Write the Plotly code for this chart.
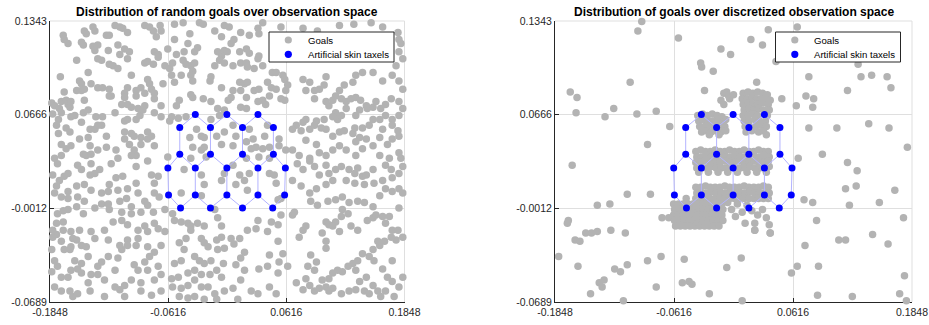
import plotly.graph_objects as go

# ---------------------------------------------------------------- data
X_TICKS = [-0.1848, -0.0616, 0.0616, 0.1848]
Y_TICKS = [-0.0689, -0.0012, 0.0666, 0.1343]

TITLES = [
    "Distribution of random goals over observation space",
    "Distribution of goals over discretized observation space",
]
LEGEND_NAMES = ["Goals", "Artificial skin taxels"]

# Taxel centres of the artificial skin patch (hexagonal mesh)
TAXEL_X = [-0.0333, -0.0004, 0.0320,
           -0.0495, -0.0175, 0.0159, 0.0481,
           -0.0495, -0.0175, 0.0159, 0.0481,
           -0.0619, -0.0333, -0.0004, 0.0320, 0.0606,
           -0.0612, -0.0333, -0.0004, 0.0320, 0.0598,
           -0.0487, -0.0175, 0.0159, 0.0474]
TAXEL_Y = [0.0666, 0.0666, 0.0666,
           0.0572, 0.0572, 0.0572, 0.0572,
           0.0379, 0.0379, 0.0379, 0.0379,
           0.0280, 0.0280, 0.0280, 0.0280, 0.0280,
           0.0085, 0.0085, 0.0085, 0.0085, 0.0085,
           -0.0009, -0.0009, -0.0009, -0.0009]
# neighbouring taxels joined by the mesh
TAXEL_LINKS = [(0, 3), (0, 4), (1, 4), (1, 5), (2, 5), (2, 6),
               (3, 7), (4, 8), (5, 9), (6, 10),
               (7, 11), (7, 12), (8, 12), (8, 13), (9, 13), (9, 14), (10, 14), (10, 15),
               (11, 16), (12, 17), (13, 18), (14, 19), (15, 20),
               (16, 21), (17, 21), (17, 22), (18, 22), (18, 23), (19, 23), (19, 24), (20, 24)]

# goals sampled uniformly over the observation space
RANDOM_GOALS = [
    (-0.171, 0.124), (-0.170, 0.121), (-0.166, 0.118), (-0.149, 0.127), (-0.147, 0.125), (-0.140, 0.130),
    (-0.138, 0.127), (-0.126, 0.124), (-0.123, 0.124), (-0.117, 0.131), (-0.112, 0.130), (-0.109, 0.129),
    (-0.104, 0.126), (-0.086, 0.131), (-0.081, 0.130), (-0.077, 0.127), (-0.074, 0.123), (-0.070, 0.131),
    (-0.069, 0.127), (-0.055, 0.132), (-0.046, 0.133), (-0.055, 0.121), (-0.039, 0.125), (-0.029, 0.133),
    (-0.025, 0.132), (-0.013, 0.127), (-0.003, 0.131), (-0.006, 0.123),
    (-0.152, 0.119), (-0.150, 0.117), (-0.140, 0.116), (-0.135, 0.117), (-0.124, 0.113), (-0.114, 0.117),
    (-0.112, 0.110), (-0.107, 0.114), (-0.102, 0.112), (-0.104, 0.107), (-0.076, 0.112), (-0.072, 0.110),
    (-0.062, 0.114), (-0.053, 0.110), (-0.045, 0.112), (-0.041, 0.118), (-0.034, 0.112), (-0.031, 0.115),
    (-0.010, 0.112), (-0.006, 0.109), (-0.003, 0.113), (-0.157, 0.106), (-0.138, 0.113),
    (-0.135, 0.107), (-0.131, 0.106), (-0.123, 0.103), (-0.119, 0.102), (-0.114, 0.100), (-0.145, 0.097),
    (-0.100, 0.095), (-0.086, 0.104), (-0.083, 0.105), (-0.077, 0.103), (-0.072, 0.108), (-0.065, 0.102),
    (-0.060, 0.100), (-0.057, 0.104), (-0.046, 0.106), (-0.043, 0.103), (-0.038, 0.102), (-0.036, 0.098),
    (-0.034, 0.104), (-0.013, 0.102), (-0.008, 0.106), (-0.003, 0.104), (-0.174, 0.094),
    (-0.154, 0.091), (-0.152, 0.089), (-0.142, 0.089), (-0.135, 0.086), (-0.130, 0.086), (-0.123, 0.085),
    (-0.121, 0.080), (-0.104, 0.086), (-0.107, 0.082), (-0.095, 0.084), (-0.090, 0.086), (-0.083, 0.092),
    (-0.081, 0.089), (-0.079, 0.085), (-0.076, 0.082), (-0.086, 0.082), (-0.067, 0.089), (-0.058, 0.095),
    (-0.055, 0.090), (-0.048, 0.095), (-0.038, 0.095), (-0.036, 0.091), (-0.018, 0.091), (-0.017, 0.094),
    (-0.006, 0.086), (-0.170, 0.083), (-0.157, 0.084), (-0.152, 0.084), (-0.149, 0.085), (-0.173, 0.076),
    (-0.168, 0.077), (-0.166, 0.074), (-0.163, 0.076), (-0.164, 0.072), (-0.149, 0.077), (-0.123, 0.080),
    (-0.107, 0.079), (-0.095, 0.080), (-0.076, 0.078), (-0.069, 0.073), (-0.110, 0.074), (-0.104, 0.074),
    (-0.100, 0.072), (-0.093, 0.071), (-0.086, 0.073), (-0.050, 0.077), (-0.053, 0.073), (-0.036, 0.079),
    (-0.038, 0.081), (-0.025, 0.078), (-0.017, 0.076), (0.001, 0.077), (-0.010, 0.071), (-0.003, 0.070),
    (-0.183, 0.075), (-0.180, 0.073), (-0.175, 0.071), (-0.182, 0.067),
    (-0.173, 0.068), (-0.163, 0.065), (-0.159, 0.066), (-0.150, 0.068), (-0.145, 0.070), (-0.137, 0.065),
    (-0.130, 0.065), (-0.117, 0.068), (-0.104, 0.063), (-0.107, 0.062), (-0.095, 0.063), (-0.091, 0.066),
    (-0.088, 0.070), (-0.076, 0.068), (-0.069, 0.065), (-0.058, 0.065), (-0.060, 0.062), (-0.051, 0.064),
    (-0.043, 0.065), (-0.017, 0.063), (-0.008, 0.066), (-0.176, 0.063), (-0.178, 0.059), (-0.168, 0.057),
    (-0.164, 0.054), (-0.152, 0.061), (-0.143, 0.056), (-0.138, 0.056), (-0.135, 0.059), (-0.131, 0.059),
    (-0.107, 0.054), (-0.100, 0.053), (-0.097, 0.051), (-0.083, 0.054), (-0.079, 0.051), (-0.090, 0.050),
    (-0.032, 0.056), (-0.027, 0.051), (-0.024, 0.050), (-0.011, 0.051), (-0.003, 0.054), (-0.176, 0.053),
    (-0.173, 0.045), (-0.168, 0.042), (-0.163, 0.044), (-0.145, 0.050), (-0.154, 0.049), (-0.143, 0.044),
    (-0.126, 0.051), (-0.135, 0.041), (-0.126, 0.043), (-0.116, 0.041), (-0.107, 0.049), (-0.102, 0.045),
    (-0.097, 0.041), (-0.095, 0.037), (-0.100, 0.037), (-0.076, 0.044), (-0.090, 0.045), (-0.083, 0.049),
    (-0.039, 0.050), (-0.024, 0.043), (-0.006, 0.045), (-0.173, 0.037), (-0.150, 0.038), (-0.147, 0.037),
    (-0.142, 0.038), (-0.180, 0.035), (-0.114, 0.035), (-0.027, 0.041), (-0.022, 0.036), (-0.038, 0.035),
    (-0.062, 0.036), (-0.036, 0.043),
    (0.002, 0.130), (0.014, 0.126), (0.023, 0.124), (0.032, 0.129), (0.033, 0.125), (0.037, 0.133),
    (0.056, 0.130), (0.079, 0.129), (0.094, 0.127), (0.117, 0.131), (0.132, 0.132), (0.150, 0.133),
    (0.162, 0.130), (0.178, 0.126), (0.179, 0.121), (0.181, 0.118), (0.004, 0.118), (0.020, 0.114),
    (0.023, 0.111), (0.032, 0.107), (0.033, 0.109), (0.013, 0.112), (0.006, 0.102), (0.014, 0.104),
    (0.021, 0.101), (0.028, 0.100), (0.037, 0.102), (0.047, 0.097), (0.051, 0.097), (0.058, 0.095),
    (0.060, 0.092), (0.042, 0.090), (0.013, 0.090), (0.018, 0.089), (0.021, 0.090), (0.006, 0.084),
    (0.004, 0.079), (0.014, 0.084), (0.020, 0.079), (0.028, 0.084), (0.033, 0.085), (0.046, 0.086),
    (0.051, 0.085), (0.044, 0.080), (0.037, 0.077), (0.056, 0.078), (0.061, 0.084), (0.063, 0.088),
    (0.060, 0.077), (0.020, 0.071), (0.014, 0.072), (0.032, 0.076), (0.040, 0.074), (0.179, 0.112),
    (0.183, 0.107), (0.176, 0.102), (0.172, 0.095), (0.179, 0.091), (0.183, 0.085), (0.162, 0.091),
    (0.152, 0.097), (0.141, 0.097), (0.134, 0.095), (0.131, 0.090), (0.122, 0.088), (0.117, 0.084),
    (0.113, 0.080), (0.110, 0.077), (0.106, 0.073), (0.103, 0.094), (0.101, 0.088), (0.096, 0.085),
    (0.091, 0.084), (0.082, 0.084), (0.079, 0.092), (0.086, 0.090), (0.091, 0.078), (0.103, 0.076),
    (0.119, 0.078), (0.124, 0.076), (0.129, 0.078), (0.134, 0.079), (0.139, 0.077), (0.145, 0.073),
    (0.146, 0.071), (0.152, 0.072), (0.155, 0.076), (0.160, 0.071), (0.165, 0.074), (0.171, 0.078),
    (0.179, 0.076), (0.183, 0.071), (0.165, 0.066), (0.172, 0.063), (0.179, 0.066), (0.138, 0.070),
    (0.134, 0.066), (0.124, 0.071), (0.113, 0.068), (0.110, 0.065), (0.115, 0.063), (0.119, 0.066),
    (0.101, 0.063), (0.093, 0.062), (0.082, 0.063), (0.079, 0.061), (0.072, 0.059), (0.068, 0.056),
    (0.077, 0.055), (0.086, 0.056), (0.091, 0.059), (0.098, 0.057), (0.103, 0.056), (0.110, 0.051),
    (0.117, 0.054), (0.122, 0.055), (0.131, 0.053), (0.133, 0.057), (0.141, 0.057), (0.148, 0.059),
    (0.152, 0.063), (0.159, 0.063), (0.162, 0.056), (0.172, 0.059), (0.178, 0.055), (0.179, 0.051),
    (0.172, 0.049), (0.167, 0.045), (0.159, 0.050), (0.145, 0.049), (0.138, 0.050), (0.134, 0.047),
    (0.141, 0.042), (0.134, 0.037), (0.124, 0.041), (0.117, 0.044), (0.110, 0.041), (0.103, 0.037),
    (0.096, 0.039), (0.086, 0.035), (0.075, 0.037), (0.068, 0.041), (0.061, 0.041), (0.054, 0.044),
    (0.044, 0.043), (0.037, 0.042), (0.030, 0.043), (0.025, 0.042), (0.020, 0.047), (0.027, 0.049),
    (0.039, 0.051), (0.054, 0.049), (0.042, 0.059), (0.082, 0.048), (0.093, 0.045), (0.152, 0.044),
    (0.159, 0.037), (0.169, 0.035), (0.179, 0.039), (0.181, 0.035), (0.023, 0.056), (0.006, 0.059),
    (0.009, 0.051), (0.006, 0.044), (0.020, 0.035), (0.033, 0.036), (0.044, 0.035), (0.000, 0.112),
    (0.007, 0.121), (0.020, 0.104),
    (-0.177, 0.031), (-0.182, 0.023), (-0.175, 0.019), (-0.170, 0.022), (-0.166, 0.024), (-0.156, 0.030),
    (-0.152, 0.027), (-0.142, 0.031), (-0.143, 0.023), (-0.138, 0.024), (-0.133, 0.027), (-0.121, 0.031),
    (-0.116, 0.021), (-0.109, 0.022), (-0.095, 0.029), (-0.083, 0.033), (-0.079, 0.023), (-0.072, 0.022),
    (-0.076, 0.017), (-0.095, 0.017), (-0.104, 0.013), (-0.114, 0.012), (-0.123, 0.016), (-0.124, 0.011),
    (-0.131, 0.010), (-0.142, 0.012), (-0.149, 0.016), (-0.157, 0.015), (-0.166, 0.011), (-0.178, 0.015),
    (-0.180, 0.010), (-0.173, 0.007), (-0.166, 0.006), (-0.156, 0.007), (-0.149, 0.004), (-0.157, 0.000),
    (-0.166, -0.002), (-0.171, -0.003), (-0.177, -0.005), (-0.150, -0.005), (-0.138, -0.001), (-0.131, 0.002),
    (-0.123, -0.002), (-0.124, 0.002), (-0.112, 0.004), (-0.105, 0.006), (-0.100, 0.000), (-0.093, 0.010),
    (-0.086, 0.004), (-0.083, 0.001), (-0.076, 0.010), (-0.071, 0.007), (-0.065, -0.002), (-0.077, -0.004),
    (-0.090, -0.004), (-0.100, -0.005), (-0.110, -0.004), (-0.119, -0.011), (-0.110, -0.010), (-0.104, -0.013),
    (-0.093, -0.017), (-0.086, -0.014), (-0.083, -0.018), (-0.076, -0.012), (-0.072, -0.016), (-0.065, -0.018),
    (-0.093, -0.023), (-0.104, -0.024), (-0.110, -0.031), (-0.114, -0.037), (-0.104, -0.028), (-0.095, -0.028),
    (-0.083, -0.029), (-0.076, -0.033), (-0.069, -0.028), (-0.081, -0.036), (-0.086, -0.040), (-0.097, -0.042),
    (-0.093, -0.046), (-0.083, -0.046), (-0.072, -0.043), (-0.069, -0.049), (-0.076, -0.053), (-0.090, -0.055),
    (-0.100, -0.053), (-0.107, -0.057), (-0.112, -0.060), (-0.117, -0.046), (-0.128, -0.053), (-0.135, -0.049),
    (-0.142, -0.049), (-0.152, -0.048), (-0.163, -0.046), (-0.166, -0.051), (-0.173, -0.051), (-0.177, -0.043),
    (-0.180, -0.039), (-0.183, -0.047), (-0.180, -0.058), (-0.173, -0.061), (-0.164, -0.061), (-0.161, -0.065),
    (-0.156, -0.063), (-0.145, -0.055), (-0.143, -0.061), (-0.128, -0.065), (-0.117, -0.058), (-0.107, -0.065),
    (-0.090, -0.061), (-0.079, -0.064), (-0.069, -0.061), (-0.178, -0.020), (-0.171, -0.017), (-0.163, -0.018),
    (-0.161, -0.023), (-0.157, -0.024), (-0.163, -0.029), (-0.164, -0.031), (-0.170, -0.031), (-0.152, -0.028),
    (-0.147, -0.029), (-0.138, -0.023), (-0.128, -0.017), (-0.124, -0.024), (-0.142, -0.018), (-0.173, -0.025),
    (-0.182, -0.022), (-0.178, -0.012), (-0.171, -0.011), (-0.182, -0.017), (-0.154, -0.017), (-0.145, -0.036),
    (-0.159, -0.039), (-0.152, -0.041), (-0.156, -0.045), (-0.135, -0.043), (-0.131, -0.040), (-0.124, -0.036),
    (-0.112, -0.028), (-0.183, -0.031), (-0.055, -0.010), (-0.048, -0.011), (-0.041, -0.012), (-0.038, -0.014),
    (-0.031, -0.012), (-0.024, -0.014), (-0.038, -0.017), (-0.043, -0.023), (-0.027, -0.023), (-0.024, -0.026),
    (-0.020, -0.029), (-0.011, -0.024), (-0.006, -0.022), (-0.010, -0.031), (-0.003, -0.030), (-0.050, -0.026),
    (-0.045, -0.031), (-0.055, -0.041), (-0.048, -0.039), (-0.034, -0.036), (-0.029, -0.039), (-0.024, -0.041),
    (-0.034, -0.046), (-0.041, -0.048), (-0.051, -0.051), (-0.058, -0.052), (-0.057, -0.058), (-0.048, -0.059),
    (-0.041, -0.057), (-0.034, -0.053), (-0.027, -0.049), (-0.018, -0.049), (-0.011, -0.046), (-0.006, -0.051),
    (-0.004, -0.041), (-0.017, -0.039), (-0.020, -0.058), (-0.013, -0.063), (-0.034, -0.065), (-0.050, -0.065),
    (-0.041, -0.066), (-0.024, -0.067), (-0.011, -0.067), (-0.003, -0.061), (-0.027, -0.058), (-0.057, -0.005),
    (-0.048, 0.010), (-0.045, 0.027), (-0.027, 0.023), (-0.024, 0.016), (-0.006, 0.019), (-0.003, 0.024),
    (-0.027, 0.008), (-0.010, -0.008), (-0.006, -0.014), (-0.013, -0.002),
    (0.006, 0.030), (0.013, 0.023), (0.018, 0.019), (0.021, 0.012), (0.009, 0.016), (0.023, 0.024),
    (0.044, 0.024), (0.049, 0.023), (0.053, 0.005), (0.056, 0.006), (0.068, 0.019), (0.051, 0.017),
    (0.073, 0.031), (0.079, 0.027), (0.086, 0.033), (0.091, 0.029), (0.096, 0.023), (0.103, 0.030),
    (0.106, 0.024), (0.113, 0.027), (0.119, 0.029), (0.127, 0.027), (0.133, 0.024), (0.136, 0.028),
    (0.141, 0.022), (0.145, 0.023), (0.152, 0.027), (0.165, 0.030), (0.171, 0.027), (0.179, 0.024),
    (0.183, 0.029), (0.172, 0.021), (0.162, 0.019), (0.153, 0.017), (0.143, 0.016), (0.133, 0.017),
    (0.124, 0.019), (0.110, 0.019), (0.103, 0.016), (0.093, 0.013), (0.086, 0.010), (0.077, 0.015),
    (0.087, 0.004), (0.094, 0.001), (0.105, 0.004), (0.113, 0.005), (0.120, 0.007), (0.127, 0.003),
    (0.136, 0.004), (0.143, 0.003), (0.152, 0.000), (0.159, 0.008), (0.165, 0.013), (0.172, 0.011),
    (0.179, 0.013), (0.183, 0.010), (0.179, -0.001), (0.120, -0.002), (0.126, -0.005), (0.119, -0.007),
    (0.113, -0.011), (0.103, -0.011), (0.106, -0.013), (0.110, -0.014), (0.099, -0.019), (0.117, -0.018),
    (0.129, -0.014), (0.136, -0.017), (0.146, -0.010), (0.152, -0.008), (0.155, -0.006), (0.162, -0.007),
    (0.165, -0.012), (0.172, -0.017), (0.169, -0.007), (0.178, -0.017), (0.183, -0.022), (0.176, -0.024),
    (0.171, -0.022), (0.164, -0.025), (0.159, -0.028), (0.157, -0.025), (0.152, -0.031), (0.148, -0.036),
    (0.153, -0.039), (0.162, -0.045), (0.167, -0.051), (0.172, -0.054), (0.179, -0.058), (0.183, -0.051),
    (0.172, -0.039), (0.141, -0.034), (0.136, -0.039), (0.131, -0.041), (0.134, -0.046), (0.126, -0.043),
    (0.120, -0.047), (0.115, -0.046), (0.110, -0.048), (0.106, -0.052), (0.099, -0.053), (0.103, -0.058),
    (0.096, -0.059), (0.091, -0.061), (0.086, -0.057), (0.079, -0.060), (0.072, -0.055), (0.082, -0.052),
    (0.091, -0.046), (0.084, -0.043), (0.093, -0.040), (0.103, -0.030), (0.103, -0.025), (0.087, -0.035),
    (0.079, -0.017), (0.075, -0.022), (0.082, -0.014), (0.068, -0.006), (0.070, -0.004), (0.157, -0.061),
    (0.160, -0.065), (0.152, -0.057), (0.145, -0.051), (0.138, -0.054), (0.143, -0.061), (0.127, -0.061),
    (0.119, -0.063), (0.110, -0.059), (0.106, -0.061), (0.134, -0.060), (0.148, -0.063), (0.165, -0.061),
    (0.174, -0.065), (0.013, -0.023), (0.004, -0.023), (0.007, -0.027), (0.021, -0.017), (0.032, -0.010),
    (0.030, -0.016), (0.042, -0.018), (0.046, -0.011), (0.053, -0.013), (0.056, -0.006), (0.053, -0.025),
    (0.044, -0.035), (0.058, -0.034), (0.054, -0.040), (0.063, -0.043), (0.053, -0.048), (0.042, -0.043),
    (0.033, -0.045), (0.018, -0.033), (0.014, -0.037), (0.009, -0.042), (0.018, -0.046), (0.014, -0.053),
    (0.006, -0.059), (0.025, -0.061), (0.032, -0.063), (0.044, -0.058), (0.051, -0.063), (0.011, -0.067),
]

# goals snapped to the discretized observation space
DISCRETE_GOALS = [
    # scattered goals
    (-0.095, 0.134), (-0.099, 0.127), (-0.057, 0.122), (-0.013, 0.114), (-0.003, 0.110), (-0.034, 0.104),
    (-0.033, 0.101), (-0.021, 0.098), (-0.107, 0.090), (-0.169, 0.083), (-0.162, 0.079), (-0.030, 0.084),
    (-0.007, 0.083), (-0.013, 0.077), (-0.004, 0.078), (-0.010, 0.074), (-0.124, 0.071), (-0.163, 0.068),
    (-0.133, 0.065), (-0.100, 0.067), (-0.080, 0.069), (-0.066, 0.058), (-0.089, 0.045), (-0.167, 0.030),
    (-0.110, 0.009), (-0.086, 0.009), (-0.141, 0.001), (-0.128, 0.002), (-0.049, 0.006), (-0.074, -0.008),
    (-0.067, -0.008), (-0.171, -0.010), (-0.172, -0.012), (-0.153, -0.019), (-0.147, -0.019), (-0.141, -0.018),
    (-0.127, -0.017), (-0.112, -0.019), (-0.164, -0.024), (-0.159, -0.025), (-0.181, -0.036), (-0.161, -0.043),
    (-0.123, -0.045), (-0.117, -0.047), (-0.110, -0.042), (-0.089, -0.039), (-0.075, -0.036), (-0.051, -0.038),
    (-0.007, -0.044), (-0.134, -0.053), (-0.139, -0.055), (-0.136, -0.058), (-0.148, -0.063), (-0.114, -0.068),
    (-0.080, -0.058), (-0.053, -0.055), (-0.046, -0.054), (-0.043, -0.056), (-0.025, -0.063),
    (0.036, 0.128), (0.066, 0.130), (0.018, 0.121), (0.030, 0.117), (0.044, 0.105), (0.129, 0.103),
    (0.078, 0.094), (0.132, 0.094), (0.143, 0.095), (0.159, 0.094), (0.163, 0.086), (0.118, 0.084),
    (0.024, 0.090), (0.050, 0.078), (0.075, 0.080), (0.083, 0.078), (0.065, 0.073), (0.082, 0.072),
    (0.078, 0.057), (0.107, 0.057), (0.140, 0.060), (0.161, 0.057), (0.180, 0.043), (0.067, 0.035),
    (0.092, 0.038), (0.118, 0.032), (0.128, 0.026), (0.116, 0.013), (0.127, 0.015), (0.167, 0.012),
    (0.073, 0.005), (0.082, 0.003), (0.120, 0.001), (0.151, 0.003), (0.176, -0.008), (0.086, -0.010),
    (0.008, -0.037), (0.074, -0.028), (0.109, -0.024), (0.116, -0.024), (0.144, -0.020), (0.160, -0.027),
    (0.066, -0.043), (0.060, -0.048), (0.088, -0.043), (0.177, -0.050), (0.087, -0.064), (0.123, -0.065),
    (0.172, -0.063), (0.179, -0.068), (0.009, -0.068), (0.038, -0.019), (0.022, -0.017),
    # upper-left cell
    (-0.037, 0.066), (-0.032, 0.067), (-0.027, 0.066), (-0.022, 0.067), (-0.017, 0.066), (-0.012, 0.065),
    (-0.036, 0.062), (-0.031, 0.063), (-0.026, 0.062), (-0.021, 0.062), (-0.016, 0.062), (-0.011, 0.061),
    (-0.008, 0.063), (-0.035, 0.058), (-0.030, 0.058), (-0.025, 0.059), (-0.020, 0.058), (-0.014, 0.058),
    (-0.009, 0.058), (-0.033, 0.054), (-0.028, 0.055), (-0.023, 0.054), (-0.018, 0.055), (-0.013, 0.054),
    (-0.008, 0.055), (-0.025, 0.052), (-0.015, 0.052),
    # upper-right cell
    (-0.010, 0.082), (-0.005, 0.080), (0.000, 0.081), (0.010, 0.082), (0.015, 0.083), (0.020, 0.082),
    (0.025, 0.083), (0.030, 0.082), (0.035, 0.081), (0.009, 0.078), (0.014, 0.078), (0.019, 0.079),
    (0.024, 0.078), (0.029, 0.078), (0.034, 0.078), (0.038, 0.077), (0.010, 0.074), (0.015, 0.075),
    (0.020, 0.074), (0.025, 0.074), (0.030, 0.075), (0.036, 0.074), (0.011, 0.070), (0.016, 0.071),
    (0.021, 0.070), (0.026, 0.071), (0.031, 0.070), (0.037, 0.070), (0.010, 0.066), (0.015, 0.066),
    (0.020, 0.067), (0.025, 0.066), (0.035, 0.066), (0.011, 0.062), (0.016, 0.062), (0.022, 0.063),
    (0.027, 0.062), (0.033, 0.062), (0.012, 0.058), (0.017, 0.058), (0.023, 0.058), (0.028, 0.059),
    (0.034, 0.058), (0.013, 0.054), (0.019, 0.055), (0.026, 0.054), (0.031, 0.055), (0.034, 0.052),
    # middle row of cells
    (-0.039, 0.040), (-0.034, 0.041), (-0.029, 0.040), (-0.024, 0.040), (-0.019, 0.041), (-0.014, 0.040),
    (-0.009, 0.040), (-0.004, 0.041), (0.001, 0.040), (0.006, 0.040), (0.011, 0.041), (0.016, 0.040),
    (0.021, 0.040), (0.026, 0.041), (0.031, 0.040), (0.036, 0.040),
    (-0.038, 0.036), (-0.033, 0.036), (-0.028, 0.037), (-0.023, 0.036), (-0.018, 0.036), (-0.013, 0.037),
    (-0.008, 0.036), (-0.003, 0.036), (0.002, 0.037), (0.007, 0.036), (0.012, 0.036), (0.017, 0.037),
    (0.022, 0.036), (0.027, 0.036), (0.032, 0.037), (0.037, 0.036),
    (-0.039, 0.032), (-0.034, 0.032), (-0.029, 0.033), (-0.024, 0.032), (-0.019, 0.032), (-0.014, 0.032),
    (-0.009, 0.033), (-0.004, 0.032), (0.001, 0.032), (0.006, 0.033), (0.011, 0.032), (0.016, 0.032),
    (0.021, 0.033), (0.026, 0.032), (0.031, 0.032), (0.036, 0.033),
    (-0.038, 0.028), (-0.033, 0.028), (-0.028, 0.028), (-0.023, 0.029), (-0.018, 0.028), (-0.013, 0.028),
    (-0.008, 0.028), (-0.003, 0.029), (0.002, 0.028), (0.007, 0.028), (0.012, 0.028), (0.017, 0.029),
    (0.022, 0.028), (0.027, 0.028), (0.032, 0.028), (0.037, 0.029),
    (-0.036, 0.025), (-0.026, 0.025), (-0.016, 0.025), (-0.006, 0.025), (0.004, 0.025), (0.014, 0.025),
    (0.024, 0.025), (0.034, 0.025),
    # lower row of cells
    (-0.039, 0.014), (-0.034, 0.014), (-0.029, 0.015), (-0.024, 0.014), (-0.019, 0.014), (-0.014, 0.014),
    (-0.009, 0.015), (-0.004, 0.014), (0.001, 0.014), (0.006, 0.014), (0.011, 0.015), (0.016, 0.014),
    (0.021, 0.014), (0.026, 0.014), (0.031, 0.015), (0.036, 0.014),
    (-0.038, 0.010), (-0.033, 0.010), (-0.028, 0.010), (-0.023, 0.011), (-0.018, 0.010), (-0.013, 0.010),
    (-0.008, 0.010), (-0.003, 0.011), (0.002, 0.010), (0.007, 0.010), (0.012, 0.010), (0.017, 0.011),
    (0.022, 0.010), (0.027, 0.010), (0.032, 0.010), (0.037, 0.010),
    (-0.039, 0.006), (-0.034, 0.006), (-0.029, 0.006), (-0.024, 0.006), (-0.019, 0.006), (-0.014, 0.006),
    (-0.009, 0.006), (-0.004, 0.006), (0.001, 0.006), (0.006, 0.006), (0.011, 0.006), (0.016, 0.006),
    (0.021, 0.006), (0.026, 0.006), (0.031, 0.006), (0.036, 0.006),
    # bottom-left block
    (-0.062, 0.002), (-0.057, 0.002), (-0.052, 0.002), (-0.047, 0.002), (-0.042, 0.002), (-0.037, 0.002),
    (-0.032, 0.002), (-0.027, 0.002), (-0.022, 0.002), (-0.017, 0.002), (-0.012, 0.002),
    (-0.061, -0.002), (-0.056, -0.002), (-0.051, -0.002), (-0.046, -0.002), (-0.041, -0.002), (-0.036, -0.002),
    (-0.031, -0.002), (-0.026, -0.002), (-0.021, -0.002), (-0.016, -0.002), (-0.011, -0.002),
    (-0.062, -0.006), (-0.057, -0.006), (-0.052, -0.006), (-0.047, -0.006), (-0.042, -0.006), (-0.037, -0.006),
    (-0.032, -0.006), (-0.027, -0.006), (-0.022, -0.006), (-0.017, -0.006), (-0.012, -0.006),
    (-0.061, -0.010), (-0.056, -0.010), (-0.051, -0.010), (-0.046, -0.010), (-0.041, -0.010), (-0.036, -0.010),
    (-0.031, -0.010), (-0.026, -0.010), (-0.021, -0.010), (-0.016, -0.010), (-0.011, -0.010),
    (-0.060, -0.014), (-0.055, -0.014), (-0.050, -0.014), (-0.045, -0.014), (-0.040, -0.014), (-0.035, -0.014),
    (-0.030, -0.014), (-0.025, -0.014), (-0.020, -0.014), (-0.015, -0.014),
    # bottom-right spill
    (-0.006, 0.003), (-0.002, -0.002), (0.004, 0.002), (0.009, -0.004), (0.014, 0.001), (0.002, -0.007),
    (0.019, -0.003), (0.025, -0.006), (0.030, -0.002), (0.034, -0.008), (0.022, -0.012), (0.037, -0.013),
    (0.038, -0.019), (0.022, -0.017), (0.012, -0.012),
]

# ---------------------------------------------------------------- styles
FONT = "Liberation Sans, Arial, Helvetica, sans-serif"
GOAL_COLOR = "#b3b3b3"
TAXEL_COLOR = "#0000ff"
LINK_COLOR = "#b3b3ff"
AXIS_COLOR = "#262626"
GRID_COLOR = "#dfdfdf"

W, H = 929, 325
X_DOMAINS = [[50 / W, 404.5 / W], [555 / W, 912 / W]]
Y_DOMAIN = [1 - 302 / H, 1 - 21 / H]
# legend boxes (left, top, right, bottom in pixels) for each panel
LEGEND_BOXES = [(269, 32, 394, 62), (775.5, 32, 900.5, 62)]


def px(x):
    return x / W


def py(y):
    return 1 - y / H


def link_path():
    xs, ys = [], []
    for a, b in TAXEL_LINKS:
        xs += [TAXEL_X[a], TAXEL_X[b], None]
        ys += [TAXEL_Y[a], TAXEL_Y[b], None]
    return xs, ys


fig = go.Figure()
lx, ly = link_path()

for i, goals in enumerate([RANDOM_GOALS, DISCRETE_GOALS]):
    sfx = "" if i == 0 else str(i + 1)
    gx = [p[0] for p in goals]
    gy = [p[1] for p in goals]
    fig.add_trace(go.Scatter(
        x=gx, y=gy, mode="markers", name=LEGEND_NAMES[0], showlegend=False,
        marker=dict(color=GOAL_COLOR, size=7.5, line=dict(width=0)),
        xaxis="x" + sfx, yaxis="y" + sfx, cliponaxis=False,
    ))
    fig.add_trace(go.Scatter(
        x=lx, y=ly, mode="lines", showlegend=False, hoverinfo="skip",
        line=dict(color=LINK_COLOR, width=1),
        xaxis="x" + sfx, yaxis="y" + sfx,
    ))
    fig.add_trace(go.Scatter(
        x=TAXEL_X, y=TAXEL_Y, mode="markers", name=LEGEND_NAMES[1], showlegend=False,
        marker=dict(color=TAXEL_COLOR, size=7, line=dict(width=0)),
        xaxis="x" + sfx, yaxis="y" + sfx, cliponaxis=False,
    ))


def axis_style(ticks, domain, anchor):
    return dict(
        domain=domain, anchor=anchor, range=[ticks[0], ticks[-1]], automargin=False,
        tickmode="array", tickvals=ticks, ticktext=[f"{v:.4f}" for v in ticks],
        showgrid=True, gridcolor=GRID_COLOR, gridwidth=1, zeroline=False,
        showline=True, linecolor=AXIS_COLOR, linewidth=1, mirror=False,
        ticks="inside", ticklen=4, tickcolor=AXIS_COLOR, tickwidth=1,
        tickfont=dict(family=FONT, size=10.5, color=AXIS_COLOR),
        fixedrange=True, layer="below traces",
    )


shapes, annotations = [], []

# grid lines along the upper and right borders of each panel
for sfx in ["", "2"]:
    xd, yd = "x" + sfx + " domain", "y" + sfx + " domain"
    shapes.append(dict(type="line", xref=xd, yref=yd, x0=0, x1=1, y0=1, y1=1,
                       line=dict(color=GRID_COLOR, width=1), layer="below"))
    shapes.append(dict(type="line", xref=xd, yref=yd, x0=1, x1=1, y0=0, y1=1,
                       line=dict(color=GRID_COLOR, width=1), layer="below"))

# legend boxes with a swatch and a label per entry
for (l, t, r, b) in LEGEND_BOXES:
    shapes.append(dict(type="rect", xref="paper", yref="paper",
                       x0=px(l), x1=px(r), y0=py(b), y1=py(t),
                       fillcolor="white", line=dict(color=AXIS_COLOR, width=1), layer="above"))
    rows = [t + 8, t + 22.3]
    for name, color, yc in zip(LEGEND_NAMES, [GOAL_COLOR, TAXEL_COLOR], rows):
        cx, rad = l + 19.3, 3.6
        shapes.append(dict(type="circle", xref="paper", yref="paper",
                           x0=px(cx - rad), x1=px(cx + rad), y0=py(yc + rad), y1=py(yc - rad),
                           fillcolor=color, line=dict(width=0), layer="above"))
        annotations.append(dict(text=name, xref="paper", yref="paper",
                                x=px(l + 37.5), y=py(yc), xanchor="left", yanchor="middle",
                                showarrow=False, borderpad=0,
                                font=dict(family=FONT, size=9.6, color="black")))

for t, d in zip(TITLES, X_DOMAINS):
    annotations.append(dict(text=f"<b>{t}</b>", xref="paper", yref="paper",
                            x=(d[0] + d[1]) / 2, y=py(12), xanchor="center", yanchor="middle",
                            showarrow=False, font=dict(family=FONT, size=12, color="black")))

fig.update_layout(
    width=W, height=H, margin=dict(l=0, r=0, t=0, b=0),
    paper_bgcolor="white", plot_bgcolor="white", showlegend=False,
    xaxis=axis_style(X_TICKS, X_DOMAINS[0], "y"),
    yaxis=axis_style(Y_TICKS, Y_DOMAIN, "x"),
    xaxis2=axis_style(X_TICKS, X_DOMAINS[1], "y2"),
    yaxis2=axis_style(Y_TICKS, Y_DOMAIN, "x2"),
    shapes=shapes,
    annotations=annotations,
)

fig.write_html("out.html")
